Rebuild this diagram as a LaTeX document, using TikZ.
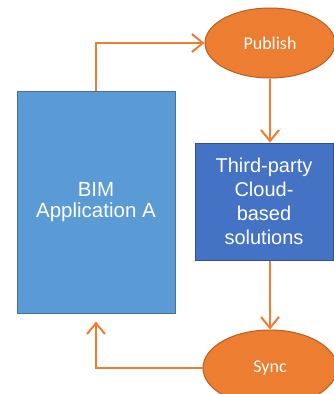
\documentclass[tikz,border=0pt]{standalone}
\usepackage{fontspec}
\setmainfont{Liberation Sans}
\newfontfamily\calib{Carlito}
\usetikzlibrary{arrows.meta,shapes.geometric}
\definecolor{orng}{HTML}{ED7D31}
\definecolor{orngdk}{HTML}{B65F25}
\definecolor{blueA}{HTML}{5B9BD5}
\definecolor{blueAdk}{HTML}{41719C}
\definecolor{blueB}{HTML}{4472C4}
\definecolor{blueBdk}{HTML}{2F528F}
\tikzset{
  boxA/.style={draw=blueAdk, fill=blueA, line width=1pt, inner sep=0pt, text=white, align=center,
    font=\fontsize{20.5}{21}\selectfont},
  boxB/.style={draw=blueBdk, fill=blueB, line width=1pt, inner sep=0pt, text=white, align=center,
    font=\fontsize{20}{23.8}\selectfont},
  oval/.style={ellipse, draw=orngdk, fill=orng, line width=1pt, inner sep=0pt, text=white,
    font=\calib\fontsize{18}{20}\selectfont},
  arr/.style={draw=orng, line width=2pt, -{Straight Barb[length=11pt,width=18pt,line width=2pt]}},
}
\begin{document}
\begin{tikzpicture}[x=1pt,y=-1pt]
\useasboundingbox (0,0) rectangle (333,394);
\fill[white] (0,0) rectangle (333,394);
\node[boxA, minimum width=158pt, minimum height=222pt] (bim) at (96,202) {BIM\\Application A};
\node[boxB, minimum width=138pt, minimum height=117pt] (tp) at (264,201.5) {Third-party\\Cloud-\\based\\solutions};
\node[oval, minimum width=130pt, minimum height=70pt] (pub) at (270,43) {Publish};
\node[oval, minimum width=134pt, minimum height=76pt] (sync) at (270,368) {Sync};
\draw[arr] (bim.north) |- (pub.west);
\draw[arr] (pub.south) -- (tp.north -| pub.south);
\draw[arr] (tp.south -| sync.north) -- (sync.north);
\draw[arr, shorten >=8pt] (sync.west) -| (bim.south);
\end{tikzpicture}
\end{document}
